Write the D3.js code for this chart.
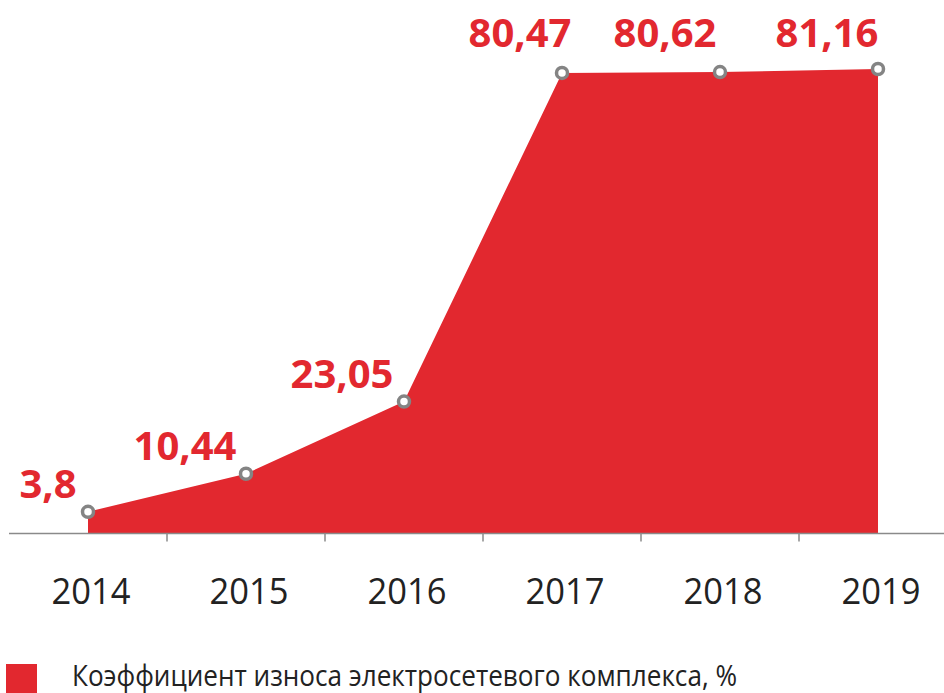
<!DOCTYPE html>
<html>
<head>
<meta charset="utf-8">
<script src="https://cdn.jsdelivr.net/npm/d3@7"></script>
<style>
  body { margin: 0; background: #fff; }
  svg { display: block; }
</style>
</head>
<body>
<svg width="944" height="693"></svg>
<script>
const years = ['2014', '2015', '2016', '2017', '2018', '2019'];
const values = [3.8, 10.44, 23.05, 80.47, 80.62, 81.16];
const valueLabels = ['3,8', '10,44', '23,05', '80,47', '80,62', '81,16'];
const legendLabel = 'Коэффициент износа электросетевого комплекса, %';

function drawAreaChart() {
    const width = 944;
    const red = '#e2282f';
    const svg = d3.select('svg');

    const xScale = d3.scaleBand()
        .domain(years)
        .range([9, 957])
        .padding(0);
    const cx = d => xScale(d) + xScale.bandwidth() / 2;
    const yScale = d3.scaleLinear()
        .domain([0, 81.16])
        .range([533.5, 69]);

    // label nudges, left of each point
    const labelDx = [-40, -61, -62, -42, -55, -51];

    const data = years.map((y, i) => ({ year: y, value: values[i], label: valueLabels[i], dx: labelDx[i] }));

    // Area
    const area = d3.area()
        .x(d => cx(d.year))
        .y0(yScale(0))
        .y1(d => yScale(d.value));
    svg.append('path')
        .datum(data)
        .attr('d', area)
        .attr('fill', red);

    // Axis line + ticks between bands
    svg.append('line')
        .attr('x1', 9).attr('x2', width)
        .attr('y1', yScale(0)).attr('y2', yScale(0))
        .attr('stroke', '#8a8a8a')
        .attr('stroke-width', 1.5);
    svg.selectAll('.tick-mark')
        .data(years.slice(1))
        .join('line')
        .attr('class', 'tick-mark')
        .attr('x1', d => xScale(d)).attr('x2', d => xScale(d))
        .attr('y1', yScale(0)).attr('y2', yScale(0) + 8)
        .attr('stroke', '#8a8a8a')
        .attr('stroke-width', 1.5);

    // Year labels
    svg.selectAll('.year')
        .data(years)
        .join('text')
        .attr('class', 'year')
        .text(d => d)
        .attr('x', d => cx(d) + 3)
        .attr('y', 604)
        .style('text-anchor', 'middle')
        .style('font-family', '"Open Sans", sans-serif')
        .style('font-size', '36px')
        .attr('textLength', 79)
        .attr('lengthAdjust', 'spacingAndGlyphs')
        .style('fill', '#222');

    // Points
    svg.selectAll('.pt')
        .data(data)
        .join('circle')
        .attr('class', 'pt')
        .attr('cx', d => cx(d.year))
        .attr('cy', d => yScale(d.value))
        .attr('r', 5.5)
        .attr('fill', '#fff')
        .attr('stroke', '#848484')
        .attr('stroke-width', 3.5);

    // Value labels (top row pinned under the top edge)
    svg.selectAll('.val')
        .data(data)
        .join('text')
        .attr('class', 'val')
        .text(d => d.label)
        .attr('x', d => cx(d.year) + d.dx)
        .attr('y', d => d.value > 50 ? 47 : yScale(d.value) - 14)
        .style('text-anchor', 'middle')
        .style('font-family', '"Open Sans", sans-serif')
        .style('font-weight', 'bold')
        .style('font-size', '40px')
        .style('fill', red);

    // Legend
    svg.append('rect')
        .attr('x', 6).attr('y', 664)
        .attr('width', 31).attr('height', 31)
        .attr('fill', red);
    svg.append('text')
        .text(legendLabel)
        .attr('x', 72)
        .attr('y', 686)
        .attr('textLength', 665)
        .attr('lengthAdjust', 'spacingAndGlyphs')
        .style('font-family', '"Open Sans", sans-serif')
        .style('font-size', '29px')
        .style('fill', '#222');
}

drawAreaChart();
</script>
</body>
</html>
